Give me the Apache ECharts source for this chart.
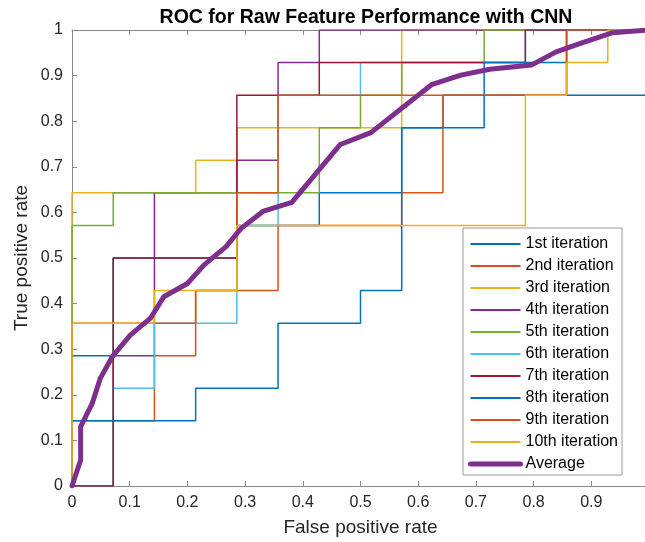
<!DOCTYPE html>
<html>
<head>
<meta charset="utf-8">
<script src="https://cdn.jsdelivr.net/npm/echarts@6/dist/echarts.min.js"></script>
<style>
  html, body { margin: 0; padding: 0; background: #ffffff; overflow: hidden; }
  #chart { width: 645px; height: 542px; }
</style>
</head>
<body>
<div id="chart"></div>
<script>
// Test set: 14 negatives and 14 positives per fold.
const NEG = 14;
const POS = 14;

// ROC vertices per iteration as [false-positive count, true-positive count].
const roc1  = [[0,0],[0,4],[1,4],[1,7],[4,7],[4,8],[6,8],[6,9],[8,9],[8,11],[9,11],[9,12],[14,12]];
const roc2  = [[0,0],[0,2],[2,2],[2,4],[3,4],[3,6],[5,6],[5,8],[8,8],[8,9],[9,9],[9,12],[12,12],[12,14],[14,14]];
const roc3  = [[0,0],[0,9],[3,9],[3,10],[4,10],[4,11],[8,11],[8,14],[14,14]];
const roc4  = [[0,0],[1,0],[1,4],[2,4],[2,9],[4,9],[4,10],[5,10],[5,13],[6,13],[6,14],[14,14]];
const roc5  = [[0,0],[0,8],[1,8],[1,9],[6,9],[6,11],[7,11],[7,12],[8,12],[8,13],[10,13],[10,14],[14,14]];
const roc6  = [[0,0],[1,0],[1,3],[2,3],[2,5],[4,5],[4,8],[5,8],[5,12],[7,12],[7,13],[11,13],[11,14],[14,14]];
const roc7  = [[0,0],[1,0],[1,7],[4,7],[4,12],[6,12],[6,13],[11,13],[11,14],[14,14]];
const roc8  = [[0,0],[0,2],[3,2],[3,3],[5,3],[5,5],[7,5],[7,6],[8,6],[8,11],[10,11],[10,13],[12,13],[12,14],[14,14]];
const roc9  = [[0,0],[0,5],[3,5],[3,6],[4,6],[4,9],[5,9],[5,12],[12,12],[12,14],[14,14]];
const roc10 = [[0,0],[0,5],[2,5],[2,6],[4,6],[4,8],[11,8],[11,12],[12,12],[12,13],[13,13],[13,14],[14,14]];

// Averaged ROC curve across the ten iterations.
const avgFpr = [0, 0.015, 0.015, 0.035, 0.049, 0.070, 0.101, 0.136, 0.159, 0.200, 0.229, 0.267, 0.293, 0.332, 0.381, 0.465, 0.518, 0.623, 0.674, 0.724, 0.796, 0.839, 0.880, 0.937, 1.000];
const avgTpr = [0, 0.057, 0.130, 0.181, 0.236, 0.284, 0.331, 0.368, 0.415, 0.444, 0.485, 0.525, 0.565, 0.603, 0.622, 0.749, 0.775, 0.880, 0.901, 0.914, 0.923, 0.952, 0.970, 0.994, 1.000];

const iterationNames = ['1st iteration','2nd iteration','3rd iteration','4th iteration','5th iteration',
                        '6th iteration','7th iteration','8th iteration','9th iteration','10th iteration'];
const averageName = 'Average';

const xTickLabels = ['0','0.1','0.2','0.3','0.4','0.5','0.6','0.7','0.8','0.9'];
const yTickLabels = ['0','0.1','0.2','0.3','0.4','0.5','0.6','0.7','0.8','0.9','1'];

const palette = ['#0072BD','#D95319','#EDB120','#7E2F8E','#77AC30','#4DBEEE','#A2142F','#0072BD','#D95319','#EDB120'];
const averageColor = '#7E2F8E';

const rocCurves = [roc1, roc2, roc3, roc4, roc5, roc6, roc7, roc8, roc9, roc10];

const FONT = '"Liberation Sans", Arial, Helvetica, sans-serif';
const AXIS_GRAY = '#8a8a8a';
const TEXT_DARK = '#262626';

// Point markers are hidden (opacity 0) so legend entries show the bare line.
const series = rocCurves.map((curve, i) => ({
  name: iterationNames[i],
  type: 'line',
  data: curve.map(p => [p[0] / NEG, p[1] / POS]),
  symbol: 'none',
  showSymbol: false,
  silent: true,
  lineStyle: { width: 1.5, color: palette[i] },
  itemStyle: { color: palette[i], opacity: 0 }
}));

series.push({
  name: averageName,
  type: 'line',
  data: avgFpr.map((x, i) => [x, avgTpr[i]]),
  symbol: 'none',
  showSymbol: false,
  silent: true,
  lineStyle: { width: 5, color: averageColor, join: 'round', cap: 'round' },
  itemStyle: { color: averageColor, opacity: 0 }
});

const sharedAxisLine = { show: true, lineStyle: { color: AXIS_GRAY, width: 1 } };
const sharedTick = { show: true, inside: true, length: 5, lineStyle: { color: AXIS_GRAY, width: 1 } };

const legendEntries = iterationNames.map(name => ({ name: name }))
  .concat([{ name: averageName, lineStyle: { width: 5 } }]);

const option = {
  animation: false,
  backgroundColor: '#ffffff',
  title: {
    text: 'ROC for Raw Feature Performance with CNN',
    left: 361,
    top: 3,
    textAlign: 'center',
    textStyle: { fontFamily: FONT, fontWeight: 'bold', fontSize: 19.5, color: '#000000' }
  },
  grid: { left: 72, top: 30, width: 577, height: 456, containLabel: false, outerBoundsMode: 'none' },
  xAxis: [
    {
      type: 'value', min: 0, max: 1, interval: 0.1, position: 'bottom',
      axisLine: sharedAxisLine, axisTick: sharedTick, splitLine: { show: false },
      axisLabel: {
        margin: 9, fontFamily: FONT, fontSize: 16, color: TEXT_DARK, showMaxLabel: false,
        formatter: v => xTickLabels[Math.round(v * 10)] || ''
      },
      name: 'False positive rate', nameLocation: 'middle', nameGap: 32, nameMoveOverlap: false,
      nameTextStyle: { fontFamily: FONT, fontSize: 19, color: TEXT_DARK }
    },
    {
      type: 'value', min: 0, max: 1, interval: 0.1, position: 'top',
      axisLine: sharedAxisLine, axisTick: sharedTick, splitLine: { show: false },
      axisLabel: { show: false }
    }
  ],
  yAxis: [
    {
      type: 'value', min: 0, max: 1, interval: 0.1, position: 'left',
      axisLine: sharedAxisLine, axisTick: sharedTick, splitLine: { show: false },
      axisLabel: {
        margin: 9, fontFamily: FONT, fontSize: 16, color: TEXT_DARK,
        formatter: v => yTickLabels[Math.round(v * 10)] || ''
      },
      name: 'True positive rate', nameLocation: 'middle', nameGap: 41, nameRotate: 90, nameMoveOverlap: false,
      nameTextStyle: { fontFamily: FONT, fontSize: 19, color: TEXT_DARK }
    }
  ],
  legend: {
    show: true,
    orient: 'vertical',
    left: 463,
    top: 228,
    padding: [8, 4, 3, 5],
    itemGap: 6,
    itemWidth: 50,
    itemHeight: 14,
    backgroundColor: '#ffffff',
    borderColor: '#9a9a9a',
    borderWidth: 1,
    borderRadius: 0,
    selectedMode: false,
    itemStyle: { opacity: 0 },
    lineStyle: { width: 2 },
    textStyle: { fontFamily: FONT, fontSize: 16, color: '#000000' },
    data: legendEntries
  },
  series: series
};

const chart = echarts.init(document.getElementById('chart'), null, { renderer: 'canvas', width: 645, height: 542 });
chart.setOption(option);
</script>
</body>
</html>
